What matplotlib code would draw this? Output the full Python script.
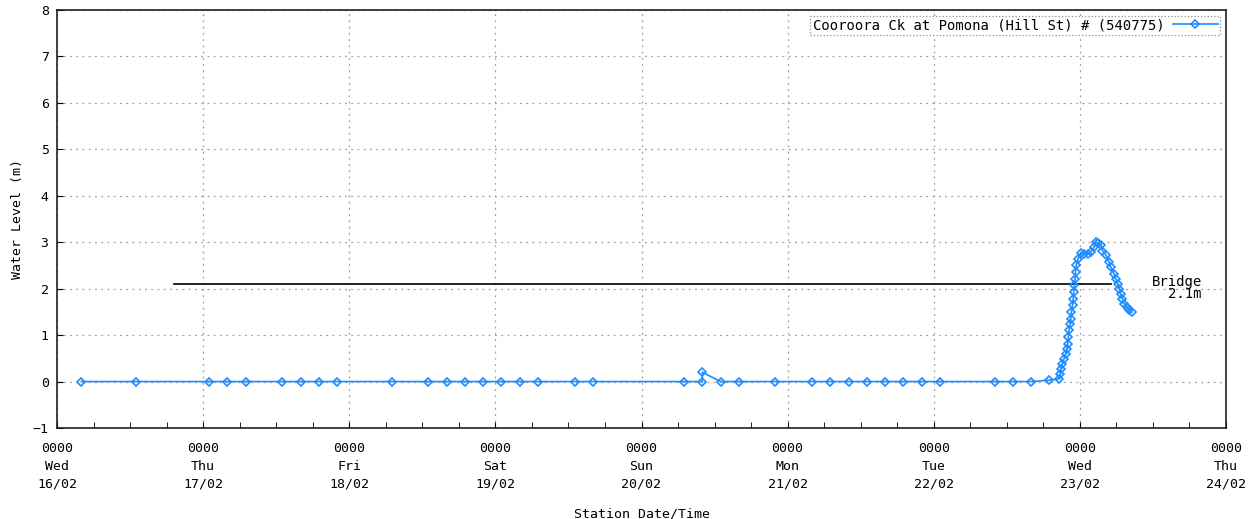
import matplotlib
matplotlib.use('Agg')
import matplotlib.pyplot as plt
from matplotlib.ticker import MultipleLocator

# hours since 0000 Wed 16/02 and water level (m)
hours = [4, 13, 25, 28, 31, 37, 40, 43, 46, 55, 61, 64, 67, 70, 73, 76, 79, 85, 88,
         103, 106, 106, 109, 112, 118, 124, 127, 130, 133, 136, 139, 142, 145,
         154, 157, 160, 163,
         164.6, 164.8, 164.9, 165.1, 165.4, 165.7, 165.9, 166.0, 166.1, 166.2,
         166.4, 166.5, 166.6, 166.8, 166.9, 167.0, 167.1, 167.2, 167.3, 167.4,
         167.7, 168.2, 168.7, 169.3, 169.8, 170.3, 170.6, 171.0, 171.5, 171.7,
         172.3, 172.8, 173.1, 173.6, 173.9, 174.2, 174.5, 174.7, 175.0, 175.3,
         175.7, 176.1, 176.5]
level = [0, 0, 0, 0, 0, 0, 0, 0, 0, 0, 0, 0, 0, 0, 0, 0, 0, 0, 0,
         0, 0, 0.2, 0, 0, 0, 0, 0, 0, 0, 0, 0, 0, 0,
         0, 0, 0, 0.03,
         0.06, 0.17, 0.27, 0.38, 0.49, 0.60, 0.70, 0.81, 0.95, 1.10,
         1.24, 1.35, 1.49, 1.64, 1.78, 1.92, 2.07, 2.21, 2.36, 2.50,
         2.64, 2.77, 2.75, 2.74, 2.79, 2.89, 3.00, 2.98, 2.93, 2.82,
         2.72, 2.57, 2.46, 2.32, 2.21, 2.11, 2.00, 1.89, 1.78, 1.67,
         1.60, 1.55, 1.49]

bridge_level = 2.1
bridge_start = 19.2
bridge_end = 173.1

days = ['Wed', 'Thu', 'Fri', 'Sat', 'Sun', 'Mon', 'Tue', 'Wed', 'Thu']
dates = ['16/02', '17/02', '18/02', '19/02', '20/02', '21/02', '22/02', '23/02', '24/02']
tick_labels = ['0000\n%s\n%s' % (d, dt) for d, dt in zip(days, dates)]

plt.rcParams['font.family'] = ['DejaVu Sans Mono']
plt.rcParams['font.size'] = 9.5

fig = plt.figure(figsize=(12.48, 5.19), dpi=100)
ax = fig.add_axes([57/1248, 1 - 428/519, (1226-57)/1248, (428-10)/519])

blue = '#1e8cff'
ax.plot(hours, level, color=blue, lw=1.2, marker='D', markersize=3.8,
        markerfacecolor='none', markeredgewidth=1.2,
        label='Cooroora Ck at Pomona (Hill St) # (540775)', zorder=3)

# bridge level line and label
ax.plot([bridge_start, bridge_end], [bridge_level, bridge_level], color='black', lw=1.2)
ax.text(188, 2.15, 'Bridge', ha='right', va='center', fontsize=10)
ax.text(188, 1.88, '2.1m', ha='right', va='center', fontsize=10)

ax.set_xlim(0, 192)
ax.set_ylim(-1, 8)
ax.set_xticks(range(0, 193, 24))
ax.set_xticklabels(tick_labels, linespacing=1.5)
ax.xaxis.set_minor_locator(MultipleLocator(6))
ax.yaxis.set_major_locator(MultipleLocator(1))

ax.grid(True, which='major', color='#a0a0a0', linestyle=(0, (1.5, 3.5)), lw=0.9)
ax.tick_params(which='both', direction='in', top=False, right=False)
ax.tick_params(which='major', length=4)
ax.tick_params(which='minor', length=4)
ax.tick_params(axis='x', pad=10)
ax.tick_params(axis='y', pad=6)
for s in ax.spines.values():
    s.set_linewidth(1.2)
    s.set_color('#202020')

ax.set_ylabel('Water Level (m)', labelpad=6)
ax.set_xlabel('Station Date/Time', labelpad=12)

leg = ax.legend(loc='upper right', markerfirst=False, fancybox=False, framealpha=1,
                handlelength=3.2, borderaxespad=0.4, borderpad=0.2, handletextpad=0.6,
                prop={'size': 10})
leg.get_frame().set_edgecolor('#909090')
leg.get_frame().set_linestyle(':')
leg.get_frame().set_linewidth(0.9)

fig.savefig('out.png', dpi=100)
